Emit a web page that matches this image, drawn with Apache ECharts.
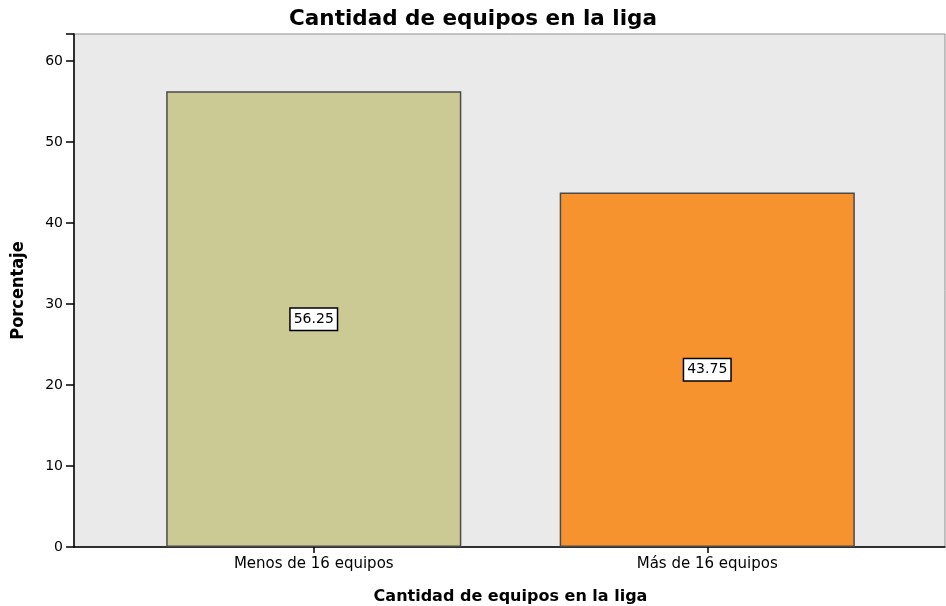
<!DOCTYPE html>
<html>
<head>
<meta charset="utf-8">
<script src="https://cdn.jsdelivr.net/npm/echarts@6/dist/echarts.min.js"></script>
<style>
  html, body { margin: 0; padding: 0; background: #fff; }
  #chart { width: 946px; height: 606px; }
</style>
</head>
<body>
<div id="chart"></div>
<script>
// data
const categories = ['Menos de 16 equipos', 'Más de 16 equipos']
const percentages = [56.25, 43.75]
const barColors = ['#CCCA94', '#F7932F']
const yTicks = [0, 10, 20, 30, 40, 50, 60]

const titleText = 'Cantidad de equipos en la liga'
const xName = 'Cantidad de equipos en la liga'
const yName = 'Porcentaje'

const yMax = 63.33

const chart = echarts.init(document.getElementById('chart'), null, { renderer: 'canvas' })

const option = {
  animation: false,
  backgroundColor: '#ffffff',
  title: {
    text: titleText,
    left: 'center',
    top: 3,
    textStyle: { fontFamily: 'DejaVu Sans', fontWeight: 'bold', fontSize: 21.5, color: '#000' }
  },
  grid: [
    // plot background, spans the whole frame
    { left: 74, right: 1, top: 34, bottom: 59, outerBoundsMode: 'none', containLabel: false,
      show: true, backgroundColor: '#EAEAEA', borderColor: '#8f8f8f', borderWidth: 1 },
    // bars sit in a narrower grid so the category centres land where the reference has them
    { left: 117, right: 42, top: 34, bottom: 59, outerBoundsMode: 'none', containLabel: false }
  ],
  xAxis: [
    {
      gridIndex: 0,
      type: 'value',
      min: 0,
      max: 1,
      axisLine: { show: true, lineStyle: { color: '#000', width: 1.5 } },
      axisTick: { show: false },
      axisLabel: { show: false },
      splitLine: { show: false }
    },
    {
      gridIndex: 1,
      type: 'category',
      data: categories,
      name: xName,
      nameLocation: 'middle',
      nameGap: 42,
      nameTextStyle: { fontFamily: 'DejaVu Sans', fontWeight: 'bold', fontSize: 16, color: '#000' },
      axisLine: { show: false },
      axisTick: { show: true, alignWithLabel: true, length: 6, lineStyle: { color: '#000', width: 1.5 } },
      axisLabel: { fontFamily: 'DejaVu Sans', fontSize: 15, color: '#000', margin: 10 }
    }
  ],
  yAxis: [
    {
      gridIndex: 0,
      type: 'value',
      min: 0,
      max: yMax,
      interval: 10,
      name: yName,
      nameLocation: 'middle',
      nameGap: 47,
      nameTextStyle: { fontFamily: '"DejaVu Sans Condensed", "Liberation Sans"', fontWeight: 'bold', fontSize: 18, color: '#000' },
      axisLine: { show: true, lineStyle: { color: '#000', width: 1.5 } },
      axisTick: { show: true, length: 8, lineStyle: { color: '#000', width: 1.5 } },
      axisLabel: {
        fontFamily: 'DejaVu Sans', fontSize: 14, color: '#000', margin: 11,
        formatter: v => (yTicks.indexOf(v) >= 0 ? String(v) : '')
      },
      splitLine: { show: false }
    },
    {
      gridIndex: 1,
      type: 'value',
      min: 0,
      max: yMax,
      show: false
    }
  ],
  series: [
    {
      type: 'bar',
      xAxisIndex: 1,
      yAxisIndex: 1,
      barWidth: '75%',
      data: percentages.map((v, i) => ({
        value: v,
        itemStyle: { color: barColors[i] }
      })),
      itemStyle: { borderColor: '#4a4a4a', borderWidth: 1.5 },
      label: {
        show: true,
        position: 'inside',
        formatter: p => p.value.toFixed(2),
        fontFamily: 'DejaVu Sans',
        fontSize: 14,
        color: '#000',
        backgroundColor: '#fff',
        borderColor: '#000',
        borderWidth: 1.5,
        padding: [4, 3, 3, 3]
      }
    }
  ]
}

chart.setOption(option)
</script>
</body>
</html>
